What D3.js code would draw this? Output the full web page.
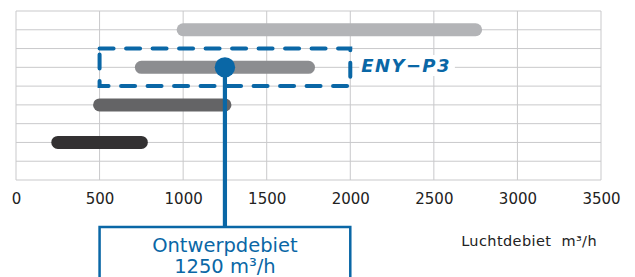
<!DOCTYPE html>
<html><head><meta charset="utf-8">
<script src="https://cdn.jsdelivr.net/npm/d3@7"></script>
<style>body{margin:0;background:#fff}svg{display:block}text{font-family:"DejaVu Sans",Verdana,sans-serif}</style>
</head><body>
<script>
const categories = ["ENY-P4", "ENY-P3", "ENY-P2", "ENY-P1"];
const minFlow = [1000, 750, 500, 250];
const maxFlow = [2750, 1750, 1250, 750];
const barColors = ["#b3b4b7", "#8c8d90", "#646466", "#333132"];
const xTicks = [0, 500, 1000, 1500, 2000, 2500, 3000, 3500];
const selected = "ENY-P3";
const selectedLabel = "ENY\u2212P3";
const boxRange = [500, 2000];
const designFlow = 1250;
const designLines = ["Ontwerpdebiet", "1250 m\u00b3/h"];
const axisTitle = "Luchtdebiet  m\u00b3/h";

const W = 635, H = 277;
const blue = "#0a67a6";
const svg = d3.select("body").append("svg").attr("width", W).attr("height", H);

const x = d3.scaleLinear().domain([0, 3500]).range([16, 601]);
const yGrid = d3.scaleLinear().domain([0, 9]).range([11, 180]);
const y = d3.scalePoint().domain(categories).range([yGrid(1), yGrid(7)]);
const half = y.step() / 2;

// grid
const g = svg.append("g");
g.selectAll("line.h").data(d3.range(0, 10)).join("line")
  .attr("x1", x(0)).attr("x2", x(3500))
  .attr("y1", d => yGrid(d)).attr("y2", d => yGrid(d))
  .attr("stroke", "#c9c9cb").attr("stroke-width", 1);
g.selectAll("line.v").data(xTicks).join("line")
  .attr("x1", d => x(d)).attr("x2", d => x(d))
  .attr("y1", yGrid(0)).attr("y2", yGrid(9))
  .attr("stroke", "#c9c9cb").attr("stroke-width", 1);

// axis labels
const ax = svg.append("g").attr("transform", `translate(0,${yGrid(9)})`)
  .call(d3.axisBottom(x).tickValues(xTicks).tickSize(0).tickPadding(13.4).tickFormat(d3.format("d")));
ax.select(".domain").remove();
ax.selectAll("text").attr("font-size", 15).attr("fill", "#222").style("font-family", '"DejaVu Sans",sans-serif');

// bars
const bh = 13;
svg.append("g").selectAll("rect").data(categories).join("rect")
  .attr("x", (d, i) => x(minFlow[i]) - bh / 2)
  .attr("width", (d, i) => x(maxFlow[i]) - x(minFlow[i]) + bh)
  .attr("y", d => y(d) - bh / 2).attr("height", bh)
  .attr("rx", 6.5).attr("fill", (d, i) => barColors[i]);

// dashed box
const yb = y(selected);
svg.append("rect")
  .attr("x", x(boxRange[0])).attr("y", yb - half)
  .attr("width", x(boxRange[1]) - x(boxRange[0])).attr("height", 2 * half)
  .attr("fill", "none").attr("stroke", blue).attr("stroke-width", 4)
  .attr("stroke-linecap", "round").attr("stroke-dasharray", "14,12.5");

// label with white background
const lblBg = svg.append("rect").attr("fill", "#fff");
const lbl = svg.append("text").attr("x", x(boxRange[1]) + 11).attr("y", yb + 4.7)
  .attr("font-size", 18).attr("font-weight", "bold").attr("font-style", "italic")
  .attr("letter-spacing", 1.4).attr("fill", blue).text(selectedLabel);
const bb = lbl.node().getBBox();
lblBg.attr("x", bb.x - 2).attr("y", bb.y).attr("width", bb.width + 6).attr("height", bb.height);

// design point
const boxTop = 227;
svg.append("line").attr("x1", x(designFlow)).attr("x2", x(designFlow))
  .attr("y1", yb).attr("y2", boxTop + 1).attr("stroke", blue).attr("stroke-width", 4.2);
svg.append("circle").attr("cx", x(designFlow)).attr("cy", yb).attr("r", 10.2).attr("fill", blue);

svg.append("rect").attr("x", x(boxRange[0])).attr("y", boxTop)
  .attr("width", x(boxRange[1]) - x(boxRange[0])).attr("height", 80)
  .attr("fill", "#fff").attr("stroke", blue).attr("stroke-width", 2.5);
svg.append("text").attr("x", x(designFlow)).attr("y", 251.7).attr("text-anchor", "middle")
  .attr("font-size", 19.5).attr("fill", blue).text(designLines[0]);
svg.append("text").attr("x", x(designFlow)).attr("y", 273.3).attr("text-anchor", "middle")
  .attr("font-size", 19.5).attr("fill", blue).text(designLines[1]);

svg.append("text").attr("x", 597).attr("y", 246.3).attr("text-anchor", "end")
  .attr("font-size", 14.5).attr("letter-spacing", 0.4).attr("fill", "#222").style("white-space", "pre").text(axisTitle);
</script>
</body></html>
